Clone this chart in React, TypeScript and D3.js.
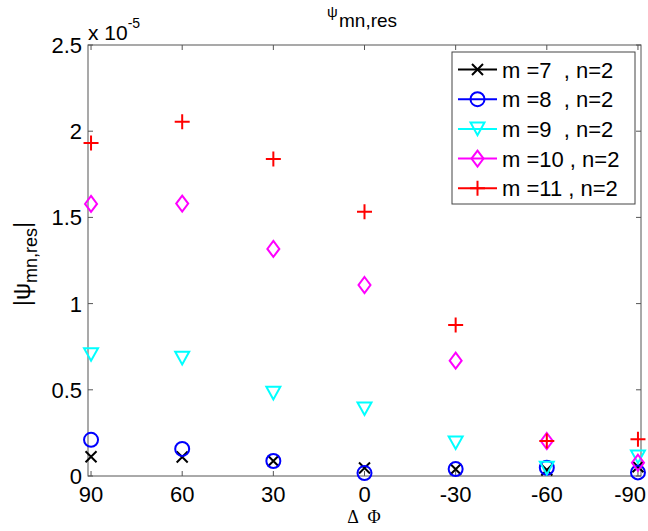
import React from "react";
import * as d3 from "d3";

const angles = [90, 60, 30, 0, -30, -60, -90];
const m7 = [0.112, 0.11, 0.087, 0.046, 0.039, 0.035, 0.054];
const m8 = [0.21, 0.157, 0.087, 0.017, 0.04, 0.048, 0.021];
const m9 = [0.705, 0.684, 0.481, 0.39, 0.193, 0.046, 0.112];
const m10 = [1.578, 1.58, 1.317, 1.108, 0.669, 0.203, 0.077];
const m11 = [1.932, 2.055, 1.839, 1.533, 0.876, 0.203, 0.213];
const yTicks = [0, 0.5, 1, 1.5, 2, 2.5];
const yTickLabels = ["0", "0.5", "1", "1.5", "2", "2.5"];
const xTicks = [90, 60, 30, 0, -30, -60, -90];
const seriesNames = ["m =7  , n=2", "m =8  , n=2", "m =9  , n=2", "m =10 , n=2", "m =11 , n=2"];
const seriesColors = ["#000000", "#0000ff", "#00ffff", "#ff00ff", "#ff0000"];
const seriesMarkers = ["x", "o", "v", "d", "+"];
const seriesValues = [m7, m8, m9, m10, m11];

const W = 648, H = 531;
const L = 88, R = 641, T = 45, B = 476;
const FONT = "'Liberation Sans', Arial, Helvetica, sans-serif";

function Marker({ type, x, y, color }: { type: string; x: number; y: number; color: string }) {
  const sw = 2;
  if (type === "x") {
    const s = 5.5;
    return <path d={`M${x - s},${y - s}L${x + s},${y + s}M${x - s},${y + s}L${x + s},${y - s}`} stroke={color} strokeWidth={sw} fill="none" />;
  }
  if (type === "o") return <circle cx={x} cy={y} r={7} stroke={color} strokeWidth={sw} fill="none" />;
  if (type === "v") return <path d={`M${x - 7},${y - 6.3}L${x + 7},${y - 6.3}L${x},${y + 6.3}Z`} stroke={color} strokeWidth={sw} fill="none" />;
  if (type === "d") return <path d={`M${x},${y - 8}L${x + 6},${y}L${x},${y + 8}L${x - 6},${y}Z`} stroke={color} strokeWidth={sw} fill="none" />;
  const s = 7.5;
  return <path d={`M${x - s},${y}L${x + s},${y}M${x},${y - s}L${x},${y + s}`} stroke={color} strokeWidth={sw} fill="none" />;
}

export default function App() {
  const x = d3.scaleLinear().domain([91, -91]).range([L, R]);
  const y = d3.scaleLinear().domain([0, 2.5]).range([B, T]);
  const axisColor = "#555";
  const tk = 5;
  const legX = 452, legY = 52, legW = 183, legH = 152;
  const serif = "'Liberation Serif', 'Times New Roman', serif";
  return (
    <svg width={W} height={H} style={{ position: "absolute", left: 0, top: 0, background: "#fff" }} fontFamily={FONT}>
      <rect x={0} y={0} width={W} height={H} fill="#fff" />
      {/* frame */}
      <rect x={L} y={T} width={R - L} height={B - T} fill="none" stroke={axisColor} strokeWidth={1} />
      {xTicks.map((t, i) => {
        const last = i === xTicks.length - 1;
        return (
          <g key={"xt" + t}>
            <line x1={x(t)} x2={x(t)} y1={B} y2={B - tk} stroke={axisColor} />
            <line x1={x(t)} x2={x(t)} y1={T} y2={T + tk} stroke={axisColor} />
            <text x={last ? 646 : x(t)} y={502} fontSize={22} textAnchor={last ? "end" : "middle"} fill="#000">{t}</text>
          </g>
        );
      })}
      {yTicks.map((t, i) => (
        <g key={"yt" + t}>
          <line x1={L} x2={L + tk} y1={y(t)} y2={y(t)} stroke={axisColor} />
          <line x1={R} x2={R - tk} y1={y(t)} y2={y(t)} stroke={axisColor} />
          <text x={82} y={y(t) + 8} fontSize={22} textAnchor="end" fill="#000">{yTickLabels[i]}</text>
        </g>
      ))}
      {/* exponent */}
      <text x={88} y={40} fontSize={21} fill="#000">x 10<tspan fontSize={14} dy={-12}>-5</tspan></text>
      {/* title */}
      <text x={327} y={17} fontSize={15} fill="#000">ψ</text>
      <text x={339} y={27} fontSize={19} fill="#000">mn,res</text>
      {/* x label */}
      <text x={353} y={523} fontSize={18} textAnchor="middle" fontFamily={serif} fill="#000">Δ</text>
      <text x={374} y={523} fontSize={18} textAnchor="middle" fontFamily={serif} fill="#000">Φ</text>
      {/* y label */}
      <text transform="translate(30,264) rotate(-90)" fontSize={24} textAnchor="middle" fill="#000">
        |ψ<tspan fontSize={18} dy={7}>mn,res</tspan><tspan dy={-7} fontSize={24}>|</tspan>
      </text>
      {/* data */}
      {seriesValues.map((vals, si) => (
        <g key={"s" + si}>
          {vals.map((v, i) => (
            <Marker key={i} type={seriesMarkers[si]} x={x(angles[i])} y={y(v)} color={seriesColors[si]} />
          ))}
        </g>
      ))}
      {/* legend */}
      <rect x={legX} y={legY} width={legW} height={legH} fill="#fff" stroke="#444" strokeWidth={1} />
      {seriesNames.map((n, i) => {
        const cy = 69.5 + i * 29.7;
        return (
          <g key={"lg" + i}>
            <line x1={458} x2={497} y1={cy} y2={cy} stroke={seriesColors[i]} strokeWidth={2} />
            <Marker type={seriesMarkers[i]} x={477.5} y={cy} color={seriesColors[i]} />
            <text x={502} y={cy + 8} fontSize={22} fill="#000" style={{ whiteSpace: "pre" }} xmlSpace="preserve">{n}</text>
          </g>
        );
      })}
    </svg>
  );
}
